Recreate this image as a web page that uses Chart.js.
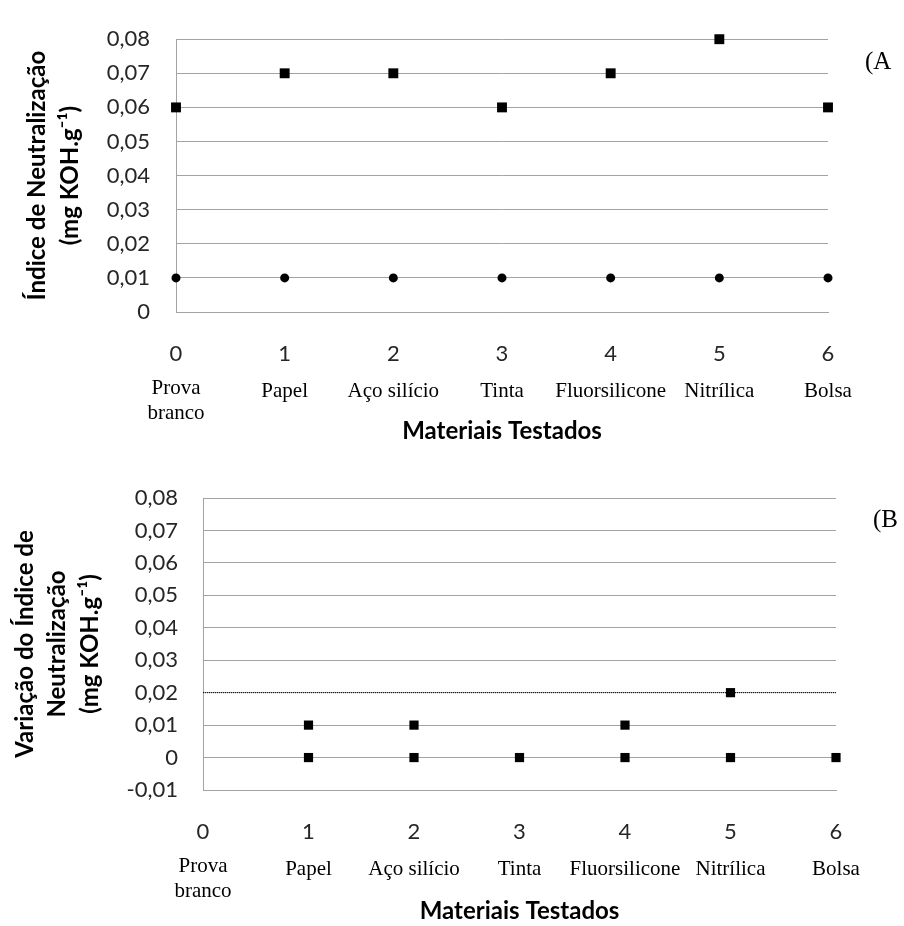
<!DOCTYPE html>
<html>
<head>
<meta charset="utf-8">
<script src="https://cdn.jsdelivr.net/npm/chart.js@4"></script>
<style>
  html, body { margin: 0; padding: 0; background: #fff; }
  #wrapA { position: absolute; left: 0; top: 0; width: 904px; height: 450px; }
  #wrapB { position: absolute; left: 0; top: 455px; width: 904px; height: 471px; }
</style>
</head>
<body>
<div id="wrapA"><canvas id="chartA" width="904" height="450"></canvas></div>
<div id="wrapB"><canvas id="chartB" width="904" height="471"></canvas></div>
<script>
// x positions and material names
const xValues = [0, 1, 2, 3, 4, 5, 6];
const materials = ["Prova\nbranco", "Papel", "Aço silício", "Tinta", "Fluorsilicone", "Nitrílica", "Bolsa"];

// (A) neutralization index
const indexSquares = [0.06, 0.07, 0.07, 0.06, 0.07, 0.08, 0.06];
const indexCircles = [0.01, 0.01, 0.01, 0.01, 0.01, 0.01, 0.01];

// (B) variation of the neutralization index
const variationUpper = [null, 0.01, 0.01, null, 0.01, 0.02, null];
const variationLower = [null, 0, 0, 0, 0, 0, 0];
const variationLimit = 0.02;

const sansFont = "Lato, 'Open Sans', sans-serif";
const serifFont = "'Liberation Serif', 'Times New Roman', serif";
const gridGray = "#a3a3a3";

function toPoints(values) {
  return xValues.map((x, i) => ({ x: x, y: values[i] }));
}

function fmtTick(v) {
  const r = Math.round(v * 100) / 100;
  if (r === 0) return "0";
  return r.toFixed(2).replace(".", ",");
}

// material names under the tick numbers and the panel letter
const extrasPlugin = {
  id: "extras",
  afterDraw(chart, args, opts) {
    const { ctx, chartArea } = chart;
    const xScale = chart.scales.x;
    ctx.save();
    ctx.fillStyle = "#000";
    ctx.font = "21px " + serifFont;
    ctx.textAlign = "center";
    ctx.textBaseline = "middle";
    materials.forEach((name, i) => {
      const px = xScale.getPixelForValue(xValues[i]);
      const lines = name.split("\n");
      if (lines.length > 1) {
        lines.forEach((l, j) => ctx.fillText(l, px, chartArea.bottom + 76 + j * 25));
      } else {
        ctx.fillText(name, px, chartArea.bottom + 79);
      }
    });
    ctx.font = "25px " + serifFont;
    ctx.textAlign = "left";
    ctx.fillText(opts.panel, opts.panelX, opts.panelY);
    ctx.restore();
  },
};

function makeOptions(cfg) {
  return {
    responsive: false,
    animation: false,
    layout: { padding: { top: cfg.top, right: cfg.right, left: 0, bottom: 0 } },
    plugins: {
      legend: { display: false },
      tooltip: { enabled: false },
      extras: { panel: cfg.panel, panelX: cfg.panelX, panelY: cfg.panelY },
    },
    scales: {
      x: {
        type: "linear",
        min: 0,
        max: 6,
        afterFit: (scale) => { scale.height = cfg.xHeight; },
        grid: { display: false, drawTicks: false },
        border: { color: gridGray, width: 1 },
        ticks: {
          stepSize: 1,
          padding: 29,
          color: "#262626",
          font: { family: sansFont, size: 22 },
        },
        title: {
          display: true,
          text: "Materiais Testados",
          color: "#000",
          font: { family: sansFont, size: 24, weight: "bold" },
          padding: { top: 0, bottom: cfg.xTitlePad },
        },
      },
      y: {
        min: cfg.yMin,
        max: 0.08,
        afterFit: (scale) => { scale.width = cfg.yWidth; },
        grid: { color: gridGray, lineWidth: 1, drawTicks: false },
        border: { color: gridGray, width: 1 },
        ticks: {
          stepSize: 0.01,
          padding: cfg.yPad,
          color: "#262626",
          font: { family: sansFont, size: 22 },
          callback: (v) => fmtTick(v),
        },
        title: {
          display: true,
          text: cfg.yTitle,
          color: "#000",
          font: { family: sansFont, size: 24, weight: "bold", lineHeight: cfg.titleLH },
          padding: { top: cfg.titlePad, bottom: 0 },
        },
      },
    },
  };
}

new Chart(document.getElementById("chartA"), {
  type: "scatter",
  data: {
    datasets: [
      {
        data: toPoints(indexSquares),
        pointStyle: "rect",
        pointRadius: 7,
        backgroundColor: "#000",
        borderColor: "#000",
        borderWidth: 0,
        clip: false,
      },
      {
        data: toPoints(indexCircles),
        pointStyle: "circle",
        pointRadius: 4.5,
        backgroundColor: "#000",
        borderColor: "#000",
        borderWidth: 0,
        clip: false,
      },
    ],
  },
  options: makeOptions({
    top: 19, right: 76, xHeight: 138, yWidth: 176, yPad: 26, yMin: 0,
    yTitle: ["Índice de Neutralização", "(mg KOH.g⁻¹)"],
    titleLH: 1.375, titlePad: 21, xTitlePad: 4,
    panel: "(A", panelX: 865, panelY: 62,
  }),
  plugins: [extrasPlugin],
});

new Chart(document.getElementById("chartB"), {
  type: "scatter",
  data: {
    datasets: [
      {
        type: "line",
        data: [{ x: xValues[0], y: variationLimit }, { x: xValues[6], y: variationLimit }],
        borderColor: "#000",
        borderWidth: 1,
        borderDash: [1, 1],
        pointRadius: 0,
        showLine: true,
        clip: false,
      },
      {
        data: toPoints(variationUpper),
        pointStyle: "rect",
        pointRadius: 6.5,
        backgroundColor: "#000",
        borderColor: "#000",
        borderWidth: 0,
        clip: false,
      },
      {
        data: toPoints(variationLower),
        pointStyle: "rect",
        pointRadius: 6.5,
        backgroundColor: "#000",
        borderColor: "#000",
        borderWidth: 0,
        clip: false,
      },
    ],
  },
  options: makeOptions({
    top: 43, right: 68, xHeight: 136, yWidth: 203, yPad: 25, yMin: -0.01,
    yTitle: ["Variação do Índice de", "Neutralização", "(mg KOH.g⁻¹)"],
    titleLH: 1.35, titlePad: 9, xTitlePad: 0,
    panel: "(B", panelX: 873, panelY: 65,
  }),
  plugins: [extrasPlugin],
});
</script>
</body>
</html>
